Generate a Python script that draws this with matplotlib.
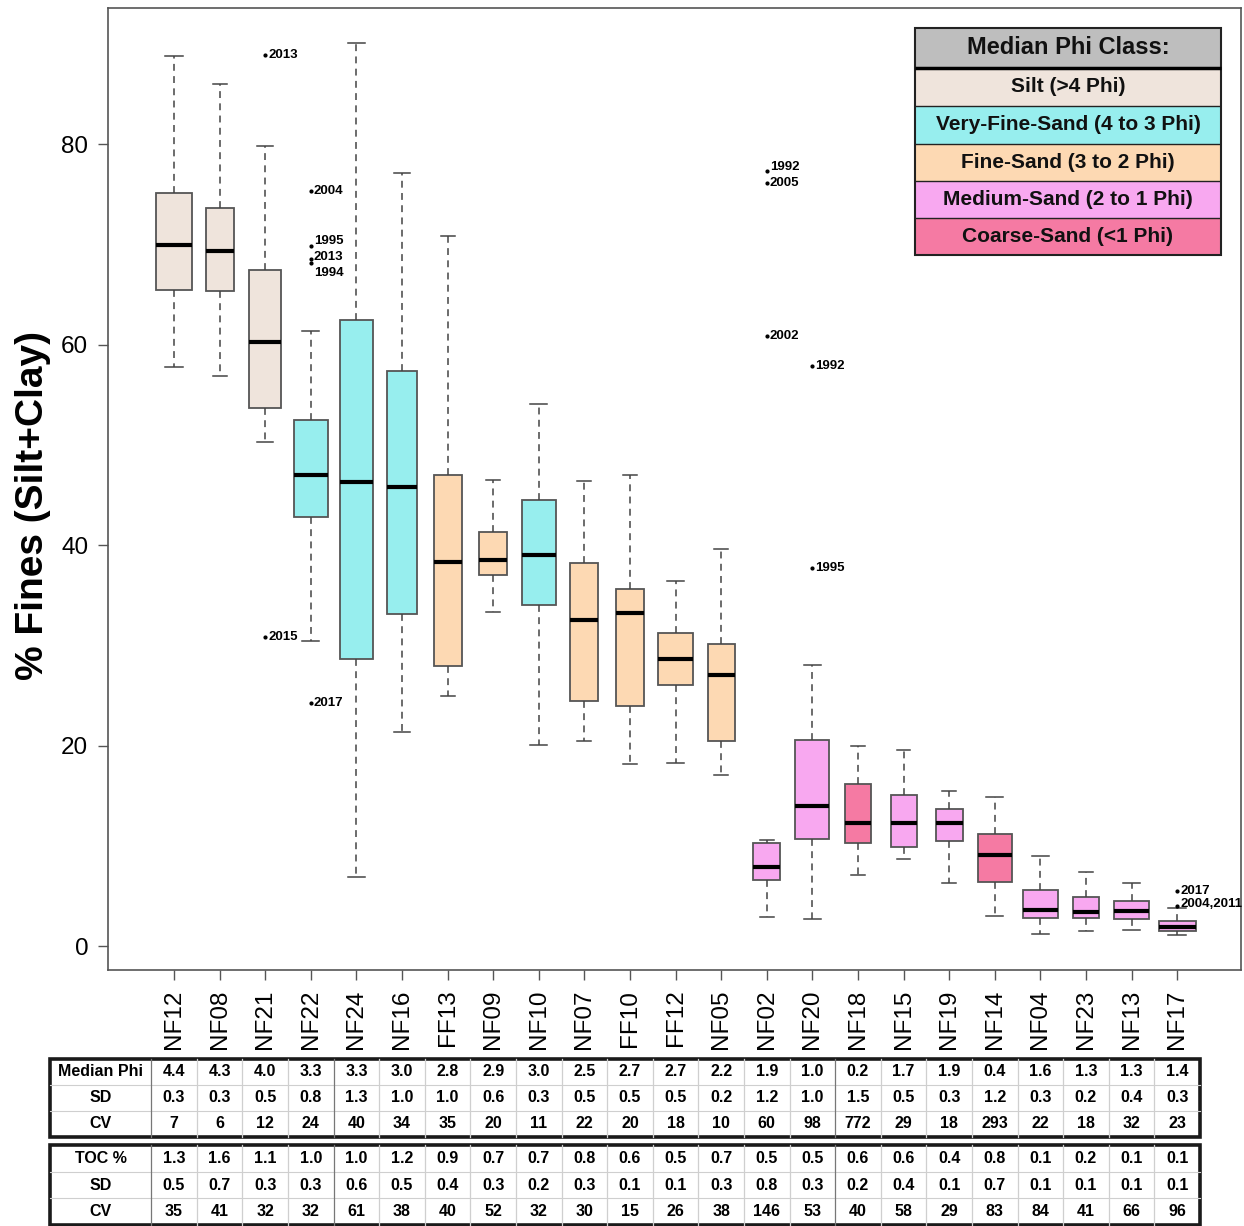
import matplotlib
matplotlib.use("Agg")
import matplotlib.pyplot as plt
import matplotlib.transforms as mtransforms
from matplotlib.lines import Line2D
from matplotlib.patches import Rectangle
import numpy as np

plt.rcParams['font.family'] = ['Liberation Sans', 'DejaVu Sans']

# ---- data -------------------------------------------------------------
sites = ["NF12", "NF08", "NF21", "NF22", "NF24", "NF16", "FF13", "NF09",
         "NF10", "NF07", "FF10", "FF12", "NF05", "NF02", "NF20", "NF18",
         "NF15", "NF19", "NF14", "NF04", "NF23", "NF13", "NF17"]

phi_class = ["silt", "silt", "silt", "vfs", "vfs", "vfs", "fs", "fs",
             "vfs", "fs", "fs", "fs", "fs", "ms", "ms", "cs",
             "ms", "ms", "cs", "ms", "ms", "ms", "ms"]

whis_lo = [57.8, 56.9, 50.3, 30.4, 6.9, 21.4, 24.9, 33.3, 20.1, 20.5, 18.2, 18.3,
           17.1, 2.9, 2.7, 7.1, 8.7, 6.3, 3.0, 1.2, 1.5, 1.6, 1.1]
q1 = [65.4, 65.3, 53.7, 42.8, 28.6, 33.1, 27.9, 37.0, 34.0, 24.4, 23.9, 26.0,
      20.5, 6.6, 10.7, 10.3, 9.9, 10.5, 6.4, 2.8, 2.8, 2.7, 1.5]
median = [69.9, 69.3, 60.3, 47.0, 46.3, 45.8, 38.3, 38.5, 39.0, 32.5, 33.2, 28.6,
          27.0, 7.9, 14.0, 12.3, 12.3, 12.3, 9.1, 3.6, 3.4, 3.5, 1.9]
q3 = [75.1, 73.6, 67.4, 52.5, 62.4, 57.4, 47.0, 41.3, 44.5, 38.2, 35.6, 31.2,
      30.1, 10.3, 20.6, 16.2, 15.1, 13.7, 11.2, 5.6, 4.9, 4.5, 2.5]
whis_hi = [88.8, 86.0, 79.8, 61.4, 90.1, 77.1, 70.8, 46.5, 54.1, 46.4, 47.0, 36.4,
           39.6, 10.6, 28.0, 20.0, 19.6, 15.5, 14.9, 9.0, 7.4, 6.3, 3.8]

# relative box widths (proportional to sample size)
box_width = [0.81, 0.61, 0.71, 0.74, 0.72, 0.66, 0.61, 0.61, 0.75, 0.61, 0.61, 0.75,
             0.59, 0.59, 0.75, 0.59, 0.57, 0.59, 0.75, 0.76, 0.59, 0.75, 0.81]

# outlying years: (site, % fines, label)
outliers = [
    ("NF21", 88.9, "2013"),
    ("NF21", 30.8, "2015"),
    ("NF22", 75.3, "2004"),
    ("NF22", 69.8, "1995"),
    ("NF22", 68.5, "2013"),
    ("NF22", 68.1, "1994"),
    ("NF22", 24.2, "2017"),
    ("NF02", 77.3, "1992"),
    ("NF02", 76.1, "2005"),
    ("NF02", 60.9, "2002"),
    ("NF20", 57.9, "1992"),
    ("NF20", 37.7, "1995"),
    ("NF17", 5.5, "2017"),
    ("NF17", 4.0, "2004,2011"),
]

# summary tables
median_phi = [4.4, 4.3, 4.0, 3.3, 3.3, 3.0, 2.8, 2.9, 3.0, 2.5, 2.7, 2.7,
              2.2, 1.9, 1.0, 0.2, 1.7, 1.9, 0.4, 1.6, 1.3, 1.3, 1.4]
phi_sd = [0.3, 0.3, 0.5, 0.8, 1.3, 1.0, 1.0, 0.6, 0.3, 0.5, 0.5, 0.5,
          0.2, 1.2, 1.0, 1.5, 0.5, 0.3, 1.2, 0.3, 0.2, 0.4, 0.3]
phi_cv = [7, 6, 12, 24, 40, 34, 35, 20, 11, 22, 20, 18,
          10, 60, 98, 772, 29, 18, 293, 22, 18, 32, 23]
toc = [1.3, 1.6, 1.1, 1.0, 1.0, 1.2, 0.9, 0.7, 0.7, 0.8, 0.6, 0.5,
       0.7, 0.5, 0.5, 0.6, 0.6, 0.4, 0.8, 0.1, 0.2, 0.1, 0.1]
toc_sd = [0.5, 0.7, 0.3, 0.3, 0.6, 0.5, 0.4, 0.3, 0.2, 0.3, 0.1, 0.1,
          0.3, 0.8, 0.3, 0.2, 0.4, 0.1, 0.7, 0.1, 0.1, 0.1, 0.1]
toc_cv = [35, 41, 32, 32, 61, 38, 40, 52, 32, 30, 15, 26,
          38, 146, 53, 40, 58, 29, 83, 84, 41, 66, 96]

class_names = ["silt", "vfs", "fs", "ms", "cs"]
class_labels = ["Silt (>4 Phi)", "Very-Fine-Sand (4 to 3 Phi)", "Fine-Sand (3 to 2 Phi)",
                "Medium-Sand (2 to 1 Phi)", "Coarse-Sand (<1 Phi)"]
class_colors = {"silt": "#EFE4DC", "vfs": "#97EEEE", "fs": "#FDD9B3",
                "ms": "#F8A8F0", "cs": "#F57AA3"}

# ---- figure -----------------------------------------------------------
W, H = 1244, 1226
fig = plt.figure(figsize=(W / 100, H / 100), dpi=100)
ax = fig.add_axes([108 / W, (H - 970) / H, (1241 - 108) / W, (970 - 8) / H])

positions = np.arange(1, len(sites) + 1)
widths = np.array(box_width)
stats = []
for i, s in enumerate(sites):
    fl = [v for (site, v, _) in outliers if site == s]
    stats.append(dict(whislo=whis_lo[i], q1=q1[i], med=median[i], q3=q3[i],
                      whishi=whis_hi[i], fliers=fl, label=s))

edge = "#555555"
bp = ax.bxp(stats, positions=positions, widths=widths, capwidths=widths / 2,
            patch_artist=True, showfliers=True,
            boxprops=dict(edgecolor=edge, linewidth=1.3),
            medianprops=dict(color="black", linewidth=3, solid_capstyle="butt"),
            whiskerprops=dict(color="#444444", linewidth=1.1, linestyle=(0, (4.5, 3.5))),
            capprops=dict(color="#444444", linewidth=1.1),
            flierprops=dict(marker="o", markersize=2.0, markerfacecolor="black",
                            markeredgecolor="black", linestyle="none"))
for patch, c in zip(bp["boxes"], phi_class):
    patch.set_facecolor(class_colors[c])

# year labels next to outlying points (small vertical nudges keep stacked labels apart)
nudge = {("NF22", "1995"): 3.5, ("NF22", "2013"): 1.5, ("NF22", "1994"): -7,
         ("NF02", "1992"): 3, ("NF17", "2004,2011"): 1.5}
for site, v, lab in outliers:
    x = sites.index(site) + 1
    ax.annotate(lab, (x, v), xytext=(2.2, nudge.get((site, lab), 0)),
                textcoords="offset points", ha="left", va="center",
                fontsize=9.5, fontweight="bold", color="black")

ax.set_xlim(-0.448, 24.40)
ax.set_ylim(-2.39, 93.57)
ax.set_yticks([0, 20, 40, 60, 80])
ax.set_xticks(positions)
ax.set_xticklabels(sites)
ax.tick_params(axis="y", direction="out", length=7.2, width=1, color=edge,
               labelsize=17.5, pad=7)
ax.tick_params(axis="x", direction="out", length=7.2, width=1, color=edge,
               labelsize=17.5, pad=7, labelrotation=90)
for sp in ax.spines.values():
    sp.set_color(edge)
    sp.set_linewidth(1.2)

fig.text(33 / W, 1 - 505 / H, "% Fines (Silt+Clay)", rotation=90, ha="center",
         va="center", fontsize=28, fontweight="bold")

# ---- legend -----------------------------------------------------------
def fig_rect(x0, y0, x1, y1, **kw):
    fig.add_artist(Rectangle((x0 / W, 1 - y1 / H), (x1 - x0) / W, (y1 - y0) / H,
                             transform=fig.transFigure, **kw))

def fig_line(x0, y0, x1, y1, **kw):
    fig.add_artist(Line2D([x0 / W, x1 / W], [1 - y0 / H, 1 - y1 / H],
                          transform=fig.transFigure, solid_capstyle="butt", **kw))

lx0, lx1 = 915, 1221
ly = [28, 68, 106, 144, 181, 218, 255]
fig_rect(lx0, ly[0], lx1, ly[1], facecolor="#BEBEBE", edgecolor="none")
fig.text((lx0 + lx1) / 2 / W, 1 - (ly[0] + ly[1]) / 2 / H, "Median Phi Class:",
         ha="center", va="center", fontsize=17, fontweight="bold", color="#111111")
for k, (cn, cl) in enumerate(zip(class_names, class_labels)):
    fig_rect(lx0, ly[k + 1], lx1, ly[k + 2], facecolor=class_colors[cn], edgecolor="none")
    fig.text((lx0 + lx1) / 2 / W, 1 - (ly[k + 1] + ly[k + 2]) / 2 / H, cl,
             ha="center", va="center", fontsize=15, fontweight="bold", color="#111111")
    if k > 0:
        fig_line(lx0, ly[k + 1], lx1, ly[k + 1], color="#222222", lw=1.0)
fig_line(lx0, ly[1], lx1, ly[1], color="black", lw=2.5)
fig_rect(lx0, ly[0], lx1, ly[-1], facecolor="none", edgecolor="#222222", lw=1.5)

# ---- summary tables below the axis -----------------------------------
trans = mtransforms.blended_transform_factory(ax.transData, fig.transFigure)
tx0, tx1 = -1.72, len(sites) + 0.5


def draw_table(row_names, rows, fmts, top_px, bottom_px):
    n = len(rows)
    rh = (bottom_px - top_px) / n
    ys = [1 - (top_px + r * rh) / H for r in range(n + 1)]
    for r in range(1, n):
        fig.add_artist(Line2D([tx0, tx1], [ys[r], ys[r]], transform=trans,
                              color="#CFCFCF", lw=0.8))
    for c in range(len(sites)):
        xv = c + 0.5
        col = "#777777" if c in (0, 4, 15) else "#CFCFCF"
        fig.add_artist(Line2D([xv, xv], [ys[0], ys[-1]], transform=trans,
                              color=col, lw=0.9))
    fig.add_artist(Rectangle((tx0, ys[-1]), tx1 - tx0, ys[0] - ys[-1], transform=trans,
                             fill=False, edgecolor="#1a1a1a", lw=2.6))
    for r in range(n):
        yc = (ys[r] + ys[r + 1]) / 2
        fig.text((tx0 + 0.5) / 2, yc, row_names[r], transform=trans, ha="center",
                 va="center", fontsize=11.5, fontweight="bold")
        for c, v in enumerate(rows[r]):
            fig.text(c + 1, yc, fmts[r].format(v), transform=trans, ha="center",
                     va="center", fontsize=11.5, fontweight="bold")


draw_table(["Median Phi", "SD", "CV"], [median_phi, phi_sd, phi_cv],
           ["{:.1f}", "{:.1f}", "{:d}"], 1059, 1137)
draw_table(["TOC %", "SD", "CV"], [toc, toc_sd, toc_cv],
           ["{:.1f}", "{:.1f}", "{:d}"], 1145, 1225)

fig.savefig("out.png", dpi=100, facecolor="white")
